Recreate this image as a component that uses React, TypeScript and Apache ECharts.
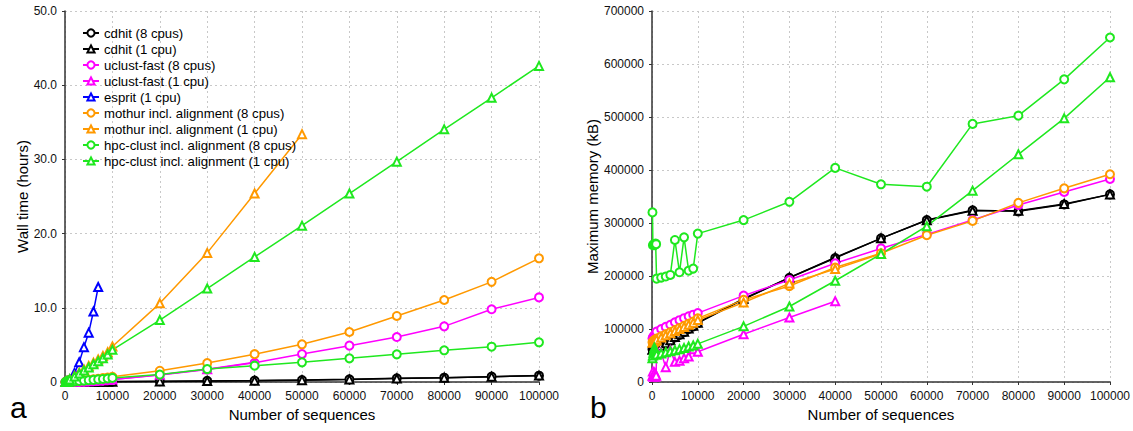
import React, { useEffect, useRef } from "react";
import * as echarts from "echarts";

// Number of sequences (x values)
const xs = [100, 200, 300, 400, 500, 600, 700, 800, 900, 1000, 2000, 3000, 4000, 5000, 6000, 7000, 8000, 9000, 10000, 20000, 30000, 40000, 50000, 60000, 70000, 80000, 90000, 100000];

const xTicks = [0, 10000, 20000, 30000, 40000, 50000, 60000, 70000, 80000, 90000, 100000];

// ---- Wall time (hours) ----
const cdhit8Time = [0, 0, 0, 0, 0.01, 0.01, 0.01, 0.01, 0.01, 0.01, 0.02, 0.02, 0.03, 0.03, 0.04, 0.04, 0.05, 0.05, 0.06, 0.1, 0.15, 0.2, 0.27, 0.36, 0.49, 0.58, 0.72, 0.85];
const cdhit1Time = [0, 0, 0, 0, 0, 0, 0.01, 0.01, 0.01, 0.01, 0.01, 0.02, 0.02, 0.03, 0.03, 0.04, 0.04, 0.05, 0.05, 0.08, 0.12, 0.18, 0.25, 0.35, 0.47, 0.58, 0.72, 0.86];
const uclust8Time = [0, 0, 0, 0, 0, 0.01, 0.01, 0.01, 0.01, 0.01, 0.03, 0.05, 0.08, 0.1, 0.14, 0.18, 0.22, 0.27, 0.32, 0.95, 1.7, 2.6, 3.77, 4.9, 6.06, 7.5, 9.8, 11.4];
const uclust1Time = [0, 0, 0, 0, 0, 0.01, 0.01, 0.01, 0.01, 0.01, 0.03, 0.06, 0.08, 0.11, 0.15, 0.19, 0.23, 0.28, 0.33, 0.98, 1.72, 2.65, null, null, null, null, null, null];
const esprit1Time = [0.005, 0.01, 0.02, 0.03, 0.05, 0.07, 0.1, 0.13, 0.16, 0.35, 1.2, 2.65, 4.7, 6.65, 9.5, 12.8, null, null, null, null, null, null, null, null, null, null, null, null];
const mothur8Time = [0, 0, 0, 0, 0.01, 0.01, 0.01, 0.02, 0.02, 0.05, 0.12, 0.18, 0.24, 0.3, 0.37, 0.44, 0.52, 0.6, 0.7, 1.52, 2.55, 3.75, 5.08, 6.74, 8.9, 11.05, 13.5, 16.67];
const mothur1Time = [0.01, 0.02, 0.03, 0.05, 0.07, 0.09, 0.12, 0.15, 0.18, 0.35, 0.8, 1.25, 1.7, 2.15, 2.6, 3.05, 3.5, 4.0, 4.78, 10.6, 17.4, 25.4, 33.4, null, null, null, null, null];
const hpc8Time = [0, 0, 0, 0.01, 0.01, 0.01, 0.02, 0.02, 0.03, 0.04, 0.09, 0.14, 0.19, 0.24, 0.29, 0.35, 0.41, 0.47, 0.55, 1.0, 1.74, 2.2, 2.65, 3.19, 3.73, 4.27, 4.76, 5.35];
const hpc1Time = [0.01, 0.02, 0.03, 0.04, 0.06, 0.08, 0.1, 0.12, 0.14, 0.33, 0.75, 1.15, 1.55, 1.95, 2.4, 2.8, 3.2, 3.7, 4.33, 8.35, 12.6, 16.85, 21.07, 25.4, 29.7, 34.05, 38.3, 42.6];

// ---- Maximum memory (kB) ----
const cdhit8Mem = [62000, 63000, 64000, 64000, 65000, 65000, 65000, 66000, 66000, 66000, 67000, 72000, 78000, 84000, 89000, 94000, 100000, 105000, 111000, 156000, 196600, 234000, 271000, 305700, 324000, 322000, 335000, 354000];
const cdhit1Mem = [61000, 62000, 63000, 64000, 64000, 65000, 65000, 65000, 66000, 66000, 68000, 73000, 79000, 85000, 90000, 95000, 101000, 106000, 112000, 157000, 197000, 235000, 271000, 305000, 323000, 323000, 336000, 354000];
const uclust8Mem = [82000, 84000, 85000, 86000, 87000, 88000, 89000, 90000, 91000, 95000, 100000, 104000, 108000, 112700, 116600, 120400, 124000, 127000, 130000, 163000, 192500, 224000, 252000, 278600, 305700, 334000, 358500, 383000];
const uclust1Mem = [12000, 20000, 10000, 15000, 12000, 18000, 10000, 14000, 12000, 60000, 55000, 28000, 60000, 38000, 40000, 45000, 48000, 62000, 57000, 90000, 121700, 152500, null, null, null, null, null, null];
const mothur8Mem = [75000, 76000, 77000, 78000, 78000, 79000, 79000, 80000, 80000, 82000, 86000, 90000, 94000, 98000, 102000, 106000, 110000, 114000, 120000, 155000, 181000, 216000, 243000, 277000, 304000, 338000, 365400, 392000];
const mothur1Mem = [74000, 75000, 76000, 77000, 77000, 78000, 78000, 79000, 79000, 80000, 84000, 88000, 92000, 96000, 100000, 104000, 108000, 112000, 117000, 150000, 186000, 213000, 242000, null, null, null, null, null];
const hpc8Mem = [320000, 258000, 259000, 260000, 258000, 260000, 259000, 261000, 260000, 195000, 197000, 199000, 202000, 268000, 207000, 273000, 210000, 214000, 280000, 305500, 340000, 404000, 373000, 368500, 487000, 502500, 571000, 650000];
const hpc1Mem = [45000, 50000, 55000, 60000, 65000, 62000, 58000, 55000, 52000, 52000, 54000, 56000, 58000, 60000, 62000, 64000, 67000, 69000, 72000, 105000, 142500, 191000, 241500, 294000, 361000, 429600, 497500, 575000];

const seriesNames = [
  "cdhit (8 cpus)",
  "cdhit (1 cpu)",
  "uclust-fast (8 cpus)",
  "uclust-fast (1 cpu)",
  "esprit (1 cpu)",
  "mothur incl. alignment (8 cpus)",
  "mothur incl. alignment (1 cpu)",
  "hpc-clust incl. alignment (8 cpus)",
  "hpc-clust incl. alignment (1 cpu)",
];

const BLACK = "#000000";
const MAGENTA = "#ff00ff";
const BLUE = "#0000ff";
const ORANGE = "#ff9900";
const GREEN = "#1fe81f";

const FONT = "'Liberation Sans', Arial, Helvetica, sans-serif";

function pairs(ys: (number | null)[]) {
  const out: [number, number][] = [];
  xs.forEach((x, i) => {
    const y = ys[i];
    if (y !== null && y !== undefined) out.push([x, y]);
  });
  return out;
}

export default function App() {
  const ref = useRef<HTMLDivElement>(null);

  useEffect(() => {
    if (!ref.current) return;
    const chart = echarts.init(ref.current, null, { renderer: "svg" });

    const specs = [
      { name: seriesNames[0], color: BLACK, symbol: "emptyCircle", time: cdhit8Time, mem: cdhit8Mem },
      { name: seriesNames[1], color: BLACK, symbol: "emptyTriangle", time: cdhit1Time, mem: cdhit1Mem },
      { name: seriesNames[2], color: MAGENTA, symbol: "emptyCircle", time: uclust8Time, mem: uclust8Mem },
      { name: seriesNames[3], color: MAGENTA, symbol: "emptyTriangle", time: uclust1Time, mem: uclust1Mem },
      { name: seriesNames[4], color: BLUE, symbol: "emptyTriangle", time: esprit1Time, mem: null },
      { name: seriesNames[5], color: ORANGE, symbol: "emptyCircle", time: mothur8Time, mem: mothur8Mem },
      { name: seriesNames[6], color: ORANGE, symbol: "emptyTriangle", time: mothur1Time, mem: mothur1Mem },
      { name: seriesNames[7], color: GREEN, symbol: "emptyCircle", time: hpc8Time, mem: hpc8Mem },
      { name: seriesNames[8], color: GREEN, symbol: "emptyTriangle", time: hpc1Time, mem: hpc1Mem },
    ];

    const mk = (s: any, data: [number, number][], idx: number) => ({
      name: s.name,
      type: "line",
      xAxisIndex: idx,
      yAxisIndex: idx,
      data,
      symbol: s.symbol,
      symbolSize: 8,
      showAllSymbol: true,
      color: s.color,
      lineStyle: { color: s.color, width: 1.5 },
      itemStyle: { color: s.color, borderColor: s.color, borderWidth: 1.3 },
      emphasis: { disabled: true },
    });

    const series: any[] = [];
    specs.forEach((s) => series.push(mk(s, pairs(s.time), 0)));
    specs.forEach((s) => {
      if (s.mem) series.push(mk(s, pairs(s.mem), 1));
    });

    const plain = (v: number) => String(v);
    const axisLabel = { fontFamily: FONT, fontSize: 12, color: "#111" };
    const splitLine = { show: true, lineStyle: { color: "#c8c8c8", type: [2, 3], width: 1 } };
    const axisLine = { show: true, lineStyle: { color: "#333", width: 1.5 } };
    const axisTick = { show: true, length: 3, lineStyle: { color: "#333" } };
    const nameStyle = { fontFamily: FONT, fontSize: 15, color: "#000" };

    const xAxisBase = (gi: number) => ({
      type: "value",
      gridIndex: gi,
      min: 0,
      max: xTicks[xTicks.length - 1],
      interval: xTicks[1] - xTicks[0],
      name: "Number of sequences",
      nameLocation: "middle",
      nameGap: 24,
      nameTextStyle: nameStyle,
      axisLabel: { ...axisLabel, margin: 8, formatter: plain },
      axisLine,
      axisTick,
      splitLine,
    });

    chart.setOption({
      animation: false,
      backgroundColor: "#ffffff",
      textStyle: { fontFamily: FONT },
      grid: [
        { left: 65, top: 11, width: 474, height: 371, containLabel: false },
        { left: 652, top: 11, width: 459, height: 371, containLabel: false },
      ],
      legend: {
        show: true,
        orient: "vertical",
        left: 77,
        top: 21,
        itemWidth: 16,
        itemHeight: 9,
        itemGap: 2,
        selectedMode: false,
        data: seriesNames,
        textStyle: { fontFamily: FONT, fontSize: 13.2, color: "#000", lineHeight: 14 },
      },
      xAxis: [xAxisBase(0), xAxisBase(1)],
      yAxis: [
        {
          type: "value",
          gridIndex: 0,
          min: 0,
          max: 50,
          interval: 10,
          name: "Wall time (hours)",
          nameLocation: "middle",
          nameGap: 33,
          nameTextStyle: nameStyle,
          axisLabel: { ...axisLabel, formatter: (v: number) => (v === 0 ? "0" : v.toFixed(1)) },
          axisLine,
          axisTick,
          splitLine,
        },
        {
          type: "value",
          gridIndex: 1,
          min: 0,
          max: 700000,
          interval: 100000,
          name: "Maximum memory (kB)",
          nameLocation: "middle",
          nameGap: 43,
          nameTextStyle: nameStyle,
          axisLabel: { ...axisLabel, formatter: plain },
          axisLine,
          axisTick,
          splitLine,
        },
      ],
      graphic: [
        { type: "text", left: 10, top: 392, style: { text: "a", font: `30px ${FONT}`, fill: "#000" } },
        { type: "text", left: 590, top: 392, style: { text: "b", font: `30px ${FONT}`, fill: "#000" } },
      ],
      series,
    });

    return () => chart.dispose();
  }, []);

  return (
    <div
      ref={ref}
      style={{ position: "fixed", left: 0, top: 0, width: 1133, height: 431, background: "#fff" }}
    />
  );
}
